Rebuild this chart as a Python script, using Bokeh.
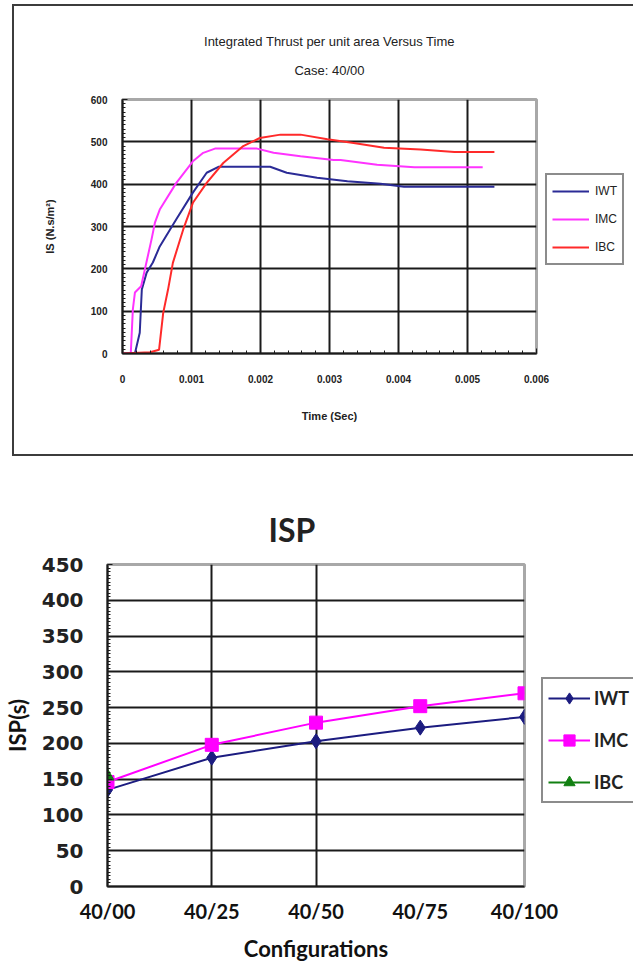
from bokeh.plotting import figure
from bokeh.models import (Legend, LegendItem, FixedTicker, Range1d,
                          NumeralTickFormatter, Title)
from bokeh.embed import file_html
from bokeh.resources import INLINE

# ---------------- data: top chart (integrated thrust per unit area) ----------------
iwt_t = [0.00018, 0.00025, 0.00028, 0.00035, 0.00044, 0.00054, 0.00078, 0.00102, 0.00122,
         0.00139, 0.00214, 0.00238, 0.00282, 0.00326, 0.00374, 0.00408, 0.00539]
iwt_v = [0, 49, 151, 191, 215, 253, 317, 380, 427, 441, 441, 427, 415, 407, 401, 394, 394]

imc_t = [0.0, 0.00012, 0.00015, 0.00018, 0.00027, 0.00042, 0.00047, 0.00054, 0.00078, 0.00102,
         0.00117, 0.00134, 0.00195, 0.00219, 0.00258, 0.00306, 0.00316, 0.00369, 0.00423, 0.00522]
imc_v = [0, 0, 104, 144, 159, 269, 309, 340, 403, 454, 474, 484, 484, 474, 466, 457, 457, 446, 440, 440]

ibc_t = [0.0, 0.00040, 0.00053, 0.00059, 0.00066, 0.00073, 0.00088, 0.00102, 0.00122, 0.00146,
         0.00175, 0.00199, 0.00229, 0.00258, 0.00297, 0.00335, 0.00379, 0.00432, 0.00481, 0.00539]
ibc_v = [0, 3, 9, 96, 151, 214, 293, 356, 403, 450, 490, 509, 517, 517, 506, 497, 486, 482, 476, 476]

time_ticks = [0, 0.001, 0.002, 0.003, 0.004, 0.005, 0.006]
is_ticks = [0, 100, 200, 300, 400, 500, 600]

# ---------------- data: bottom chart (ISP) ----------------
configs = ["40/00", "40/25", "40/50", "40/75", "40/100"]
isp_iwt = [135, 180, 203, 222, 237]
isp_imc = [146, 198, 229, 252, 270]
isp_ibc = [154]
isp_ticks = [0, 50, 100, 150, 200, 250, 300, 350, 400, 450]

FONT = "Liberation Sans"
GRID = "#1a1a1a"

# =============== top figure ===============
p1 = figure(frame_width=414, frame_height=254, output_backend="svg", toolbar_location=None,
            x_range=Range1d(0, 0.006), y_range=Range1d(0, 600),
            min_border_left=108, min_border_right=96, min_border_top=93, min_border_bottom=101)
p1.styles = {"border-left": "2px solid #3c3c3c", "border-top": "2px solid #3c3c3c",
             "border-bottom": "2px solid #3c3c3c", "margin-left": "12px", "margin-top": "4px"}
p1.outline_line_color = "#a8a8a8"
p1.outline_line_width = 3
p1.background_fill_color = "white"

p1.add_layout(Title(text="Case: 40/00", align="center", text_font=FONT, text_font_size="13px",
                    text_font_style="normal", text_color="#222222", standoff=43), "above")
p1.add_layout(Title(text="Integrated Thrust per unit area Versus Time", align="center",
                    text_font=FONT, text_font_size="13px", text_font_style="normal",
                    text_color="#222222", standoff=-18), "above")

minor_t = [i * 0.0002 for i in range(31)]
minor_y = [i * 10 for i in range(61)]
p1.xaxis.ticker = FixedTicker(ticks=time_ticks, minor_ticks=minor_t)
p1.yaxis.ticker = FixedTicker(ticks=is_ticks, minor_ticks=minor_y)
p1.xaxis.formatter = NumeralTickFormatter(format="0.[000]")
p1.xgrid.ticker = FixedTicker(ticks=time_ticks[1:-1])
p1.ygrid.ticker = FixedTicker(ticks=is_ticks[1:-1])
for g in (p1.xgrid, p1.ygrid):
    g.grid_line_color = GRID
    g.grid_line_width = 2
    g.grid_line_alpha = 1

for ax in (p1.xaxis, p1.yaxis):
    ax.axis_line_color = GRID
    ax.axis_line_width = 2
    ax.major_tick_in = 5
    ax.major_tick_out = 0
    ax.minor_tick_in = 3
    ax.minor_tick_out = 0
    ax.major_tick_line_color = GRID
    ax.minor_tick_line_color = GRID
    ax.major_label_text_font = FONT
    ax.major_label_text_font_size = "10px"
    ax.major_label_text_font_style = "bold"
    ax.major_label_text_color = "#222222"
    ax.axis_label_text_font = FONT
    ax.axis_label_text_font_size = "11px"
    ax.axis_label_text_font_style = "bold"
    ax.axis_label_text_color = "#222222"

p1.xaxis.axis_label = "Time (Sec)"
p1.xaxis.major_label_standoff = 21
p1.xaxis.axis_label_standoff = 24
p1.yaxis.axis_label = "IS (N.s/m²)"
p1.yaxis.major_label_standoff = 15
p1.yaxis.axis_label_standoff = 32

r_iwt = p1.line(iwt_t, iwt_v, line_color="#2b2b96", line_width=2)
r_imc = p1.line(imc_t, imc_v, line_color="#ff33ff", line_width=2)
r_ibc = p1.line(ibc_t, ibc_v, line_color="#ff2a2a", line_width=2)

leg1 = Legend(items=[LegendItem(label="IWT", renderers=[r_iwt]),
                     LegendItem(label="IMC", renderers=[r_imc]),
                     LegendItem(label="IBC", renderers=[r_ibc])],
              location=(9, 88), orientation="vertical")
leg1.border_line_color = GRID
leg1.border_line_width = 2
leg1.background_fill_color = "white"
leg1.background_fill_alpha = 1
leg1.label_text_font = FONT
leg1.label_text_font_size = "12px"
leg1.label_text_color = "#222222"
leg1.glyph_width = 37
leg1.glyph_height = 22
leg1.label_height = 22
leg1.spacing = 6
leg1.padding = 5
leg1.margin = 0
leg1.label_standoff = 6
p1.add_layout(leg1, "right")

# =============== bottom figure ===============
xs = list(range(len(configs)))
p2 = figure(frame_width=417, frame_height=322, output_backend="svg", toolbar_location=None,
            x_range=Range1d(0, len(configs) - 1), y_range=Range1d(0, 450),
            min_border_left=106, min_border_right=109, min_border_top=108, min_border_bottom=71)
p2.outline_line_color = "#a8a8a8"
p2.outline_line_width = 3
p2.add_layout(Title(text="ISP", align="left", offset=161, text_font="Lato",
                    text_font_size="32px", text_font_style="bold", text_color="#222222",
                    standoff=32), "above")

p2.xaxis.ticker = FixedTicker(ticks=xs)
p2.xaxis.major_label_overrides = {i: c for i, c in zip(xs, configs)}
p2.yaxis.ticker = FixedTicker(ticks=isp_ticks, minor_ticks=list(range(0, 451, 5)))
p2.xgrid.ticker = FixedTicker(ticks=xs[1:3])
p2.ygrid.ticker = FixedTicker(ticks=isp_ticks[1:-1])
for g in (p2.xgrid, p2.ygrid):
    g.grid_line_color = GRID
    g.grid_line_width = 2
    g.grid_line_alpha = 1

for ax in (p2.xaxis, p2.yaxis):
    ax.axis_line_color = GRID
    ax.axis_line_width = 2
    ax.major_tick_in = 5
    ax.major_tick_out = 0
    ax.minor_tick_in = 3
    ax.minor_tick_out = 0
    ax.major_tick_line_color = GRID
    ax.minor_tick_line_color = GRID
    ax.axis_label_text_font = "Lato"
    ax.axis_label_text_font_size = "22px"
    ax.axis_label_text_font_style = "bold"
    ax.axis_label_text_color = "#111111"
p2.xaxis.major_tick_in = 0
p2.xaxis.minor_tick_in = 0
p2.xaxis.major_label_text_font = "Lato"
p2.xaxis.major_label_text_font_size = "20px"
p2.xaxis.major_label_text_font_style = "bold"
p2.xaxis.major_label_text_color = "#111111"
p2.xaxis.major_label_standoff = 12
p2.xaxis.axis_label = "Configurations"
p2.xaxis.axis_label_standoff = 9
p2.yaxis.major_label_text_font = "DejaVu Sans"
p2.yaxis.major_label_text_font_size = "20px"
p2.yaxis.major_label_text_font_style = "bold"
p2.yaxis.major_label_text_color = "#222222"
p2.yaxis.major_label_standoff = 24
p2.yaxis.axis_label = "ISP(s)"
p2.yaxis.axis_label_standoff = 8

l_iwt = p2.line(xs, isp_iwt, line_color="#1c1c80", line_width=2)
m_iwt = p2.scatter(xs, isp_iwt, marker="diamond", size=15, fill_color="#1c1c80", line_color="#1c1c80")
l_imc = p2.line(xs, isp_imc, line_color="#ff00ff", line_width=2)
m_imc = p2.scatter(xs, isp_imc, marker="square", size=13, fill_color="#ff00ff", line_color="#ff00ff")
l_ibc = p2.line(xs[:len(isp_ibc)], isp_ibc, line_color="#128012", line_width=2)
m_ibc = p2.scatter(xs[:len(isp_ibc)], isp_ibc, marker="triangle", size=13,
                   fill_color="#128012", line_color="#128012")

leg2 = Legend(items=[LegendItem(label="IWT", renderers=[l_iwt, m_iwt]),
                     LegendItem(label="IMC", renderers=[l_imc, m_imc]),
                     LegendItem(label="IBC", renderers=[l_ibc, m_ibc])],
              location=(17, 83), orientation="vertical")
leg2.border_line_color = GRID
leg2.border_line_width = 2
leg2.background_fill_color = "white"
leg2.background_fill_alpha = 1
leg2.label_text_font = "Lato"
leg2.label_text_font_size = "18px"
leg2.label_text_font_style = "bold"
leg2.label_text_color = "#222222"
leg2.glyph_width = 42
leg2.glyph_height = 28
leg2.label_height = 28
leg2.spacing = 14
leg2.padding = 5
leg2.margin = 0
leg2.label_standoff = 4
p2.add_layout(leg2, "right")

open("out.html", "w").write(file_html([p1, p2], INLINE))
